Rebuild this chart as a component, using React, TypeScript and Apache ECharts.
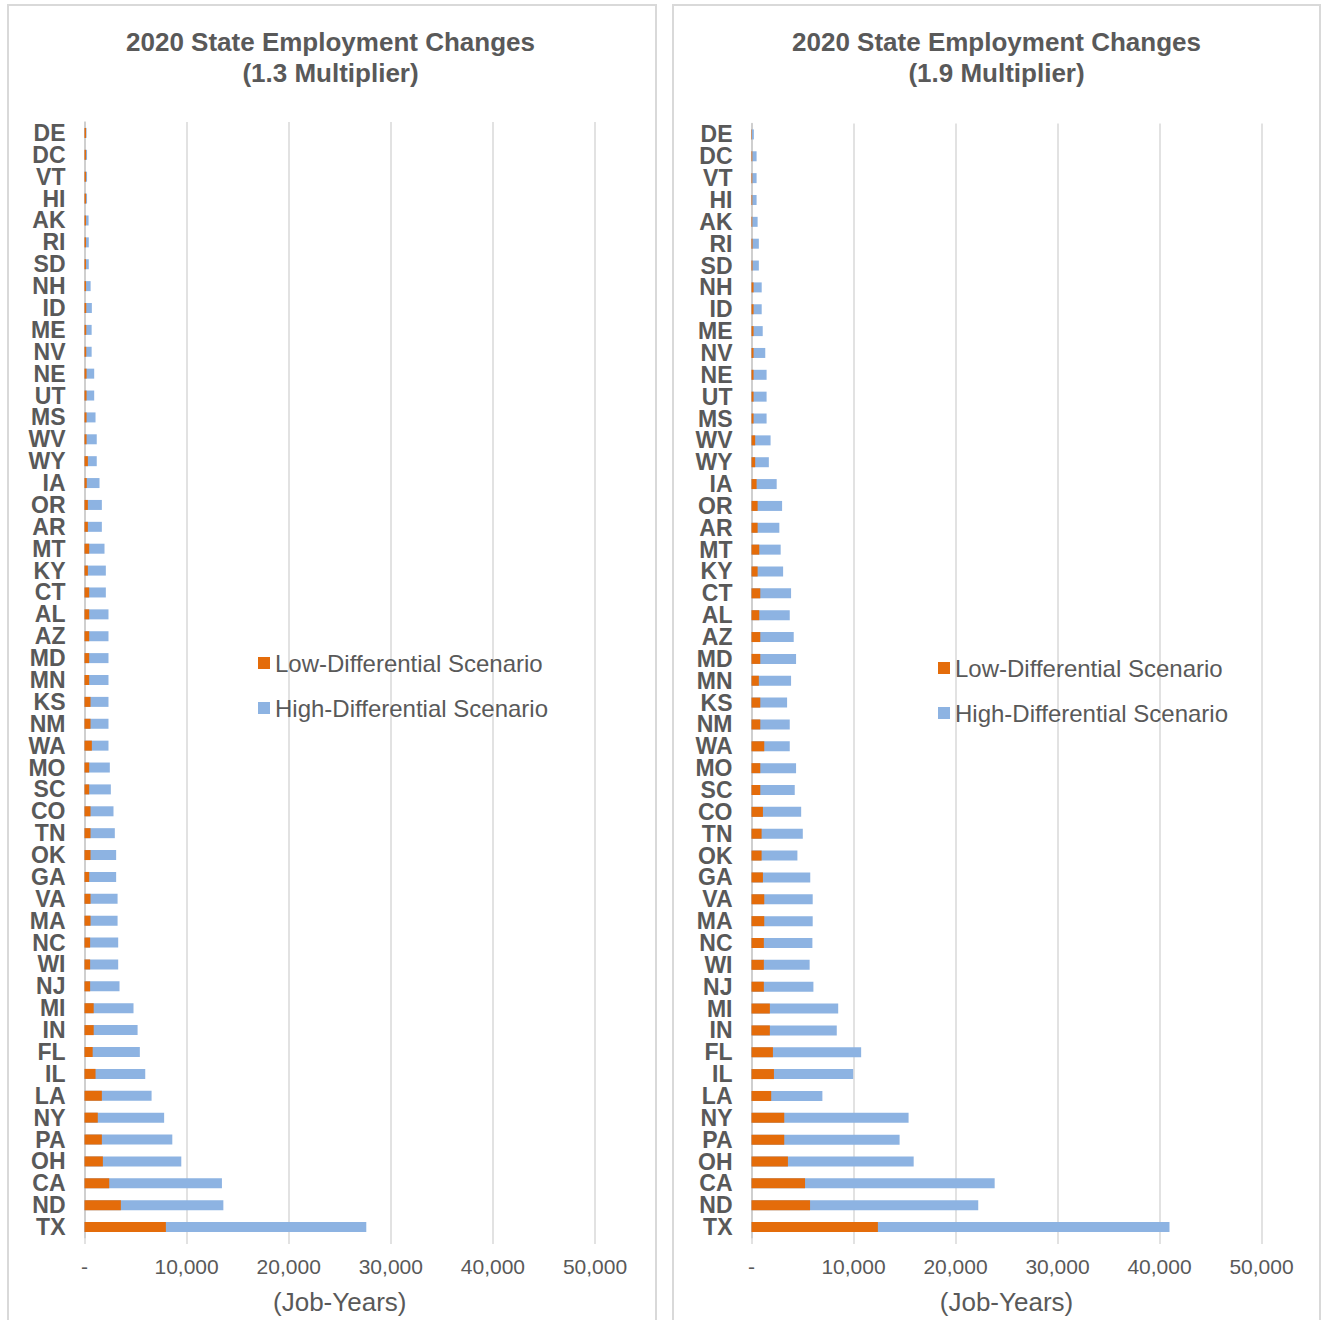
import { useEffect, useRef } from 'react';
import * as echarts from 'echarts';

const states = ['DE','DC','VT','HI','AK','RI','SD','NH','ID','ME','NV','NE','UT','MS','WV','WY','IA','OR','AR','MT','KY','CT','AL','AZ','MD','MN','KS','NM','WA','MO','SC','CO','TN','OK','GA','VA','MA','NC','WI','NJ','MI','IN','FL','IL','LA','NY','PA','OH','CA','ND','TX'];

// 1.3 multiplier
const low13 = [150,150,150,150,150,150,150,150,170,170,170,200,200,200,200,330,220,330,330,460,330,460,460,460,460,460,590,590,720,460,460,590,590,590,460,590,590,550,550,550,900,900,800,1080,1700,1300,1700,1800,2420,3560,7970];
const high13 = [200,250,250,250,400,420,420,600,720,700,700,950,950,1080,1200,1200,1470,1700,1700,1960,2090,2090,2350,2350,2350,2350,2350,2350,2350,2480,2580,2840,2970,3100,3100,3240,3240,3300,3300,3430,4800,5200,5420,5950,6570,7800,8600,9480,13460,13600,27600];

// 1.9 multiplier
const low19 = [50,80,80,80,80,100,100,200,200,200,200,200,200,200,360,360,500,600,600,760,600,860,760,860,860,720,860,860,1250,860,860,1120,990,990,1120,1250,1250,1210,1210,1210,1800,1800,2100,2200,1930,3210,3210,3570,5250,5740,12390];
const high19 = [230,500,500,500,600,720,720,1000,1000,1100,1350,1480,1480,1480,1870,1700,2470,3000,2730,2860,3100,3880,3750,4140,4370,3880,3490,3750,3750,4370,4240,4870,5030,4500,5760,6000,6000,5970,5700,6070,8500,8360,10750,9970,6950,15400,14520,15900,23840,22230,40980];

const titleLine1 = '2020 State Employment Changes';
const titleLines2 = ['(1.3 Multiplier)', '(1.9 Multiplier)'];
const lowName = 'Low-Differential Scenario';
const highName = 'High-Differential Scenario';
const axisName = '(Job-Years)';
const xMin = 0;
const xMax = 50000;
const xInterval = 10000;

const FONT = 'Liberation Sans, Arial, Helvetica, sans-serif';
const GREY = '#595959';
const ORANGE = '#E46C0A';
const BLUE = '#8DB3E2';

export default function App() {
  const ref = useRef<HTMLDivElement>(null);

  useEffect(() => {
    if (!ref.current) return;
    const chart = echarts.init(ref.current, null, { renderer: 'svg' });

    const grids = [
      { left: 84.5, top: 122, width: 510.5, height: 1123 },
      { left: 751.5, top: 123.5, width: 510, height: 1123 },
    ];

    const xAxis = grids.map((_, i) => ({
      type: 'value',
      gridIndex: i,
      min: xMin,
      max: xMax,
      interval: xInterval,
      axisLine: { show: false },
      axisTick: { show: true, length: 6, lineStyle: { color: '#d9d9d9', width: 1.5 } },
      splitLine: { show: true, lineStyle: { color: '#d9d9d9', width: 1.5 } },
      axisLabel: {
        color: GREY,
        fontSize: 21,
        fontFamily: FONT,
        margin: 18,
        formatter: (v: number) => (v === 0 ? '-' : v.toLocaleString('en-US')),
      },
      name: axisName,
      nameLocation: 'middle',
      nameGap: 51,
      nameTextStyle: { color: GREY, fontSize: 26, fontFamily: FONT },
    }));

    const yAxis = grids.map((_, i) => ({
      type: 'category',
      gridIndex: i,
      data: states,
      inverse: true,
      axisTick: { show: false },
      axisLine: { show: true, lineStyle: { color: '#c8c8c8', width: 1.5 } },
      axisLabel: {
        interval: 0,
        color: GREY,
        fontSize: 23,
        lineHeight: 20,
        fontWeight: 'bold',
        fontFamily: FONT,
        margin: 19,
      },
    }));

    const mkSeries = (idx: number, low: number[], high: number[]) => [
      {
        name: highName,
        type: 'bar',
        xAxisIndex: idx,
        yAxisIndex: idx,
        data: high,
        barWidth: 10,
        barGap: '-100%',
        itemStyle: { color: BLUE },
      },
      {
        name: lowName,
        type: 'bar',
        xAxisIndex: idx,
        yAxisIndex: idx,
        data: low,
        barWidth: 10,
        barGap: '-100%',
        itemStyle: { color: ORANGE },
      },
    ];

    const legendBase = {
      data: [lowName, highName],
      orient: 'vertical',
      icon: 'rect',
      itemWidth: 12,
      itemHeight: 12,
      itemGap: 21,
      textStyle: { color: GREY, fontSize: 24, fontFamily: FONT },
    };

    const titleText = (cx: number, i: number) => [
      {
        type: 'text',
        x: cx,
        y: 42,
        style: {
          text: titleLine1,
          textAlign: 'center',
          textVerticalAlign: 'middle',
          font: `bold 26px ${FONT}`,
          fill: GREY,
        },
      },
      {
        type: 'text',
        x: cx,
        y: 73,
        style: {
          text: titleLines2[i],
          textAlign: 'center',
          textVerticalAlign: 'middle',
          font: `bold 26px ${FONT}`,
          fill: GREY,
        },
      },
    ];

    chart.setOption({
      animation: false,
      backgroundColor: '#ffffff',
      grid: grids,
      xAxis,
      yAxis,
      legend: [
        { ...legendBase, left: 253, top: 646 },
        { ...legendBase, left: 933, top: 651 },
      ],
      series: [...mkSeries(0, low13, high13), ...mkSeries(1, low19, high19)],
      graphic: [
        {
          type: 'rect',
          shape: { x: 8, y: 5, width: 648, height: 1320 },
          style: { fill: 'none', stroke: '#d9d9d9', lineWidth: 2 },
          silent: true,
        },
        {
          type: 'rect',
          shape: { x: 673, y: 5, width: 647, height: 1320 },
          style: { fill: 'none', stroke: '#d9d9d9', lineWidth: 2 },
          silent: true,
        },
        ...titleText(330.5, 0),
        ...titleText(996.5, 1),
      ],
    });

    return () => chart.dispose();
  }, []);

  return (
    <div
      ref={ref}
      style={{ position: 'absolute', left: 0, top: 0, width: 1325, height: 1320, overflow: 'hidden' }}
    />
  );
}
